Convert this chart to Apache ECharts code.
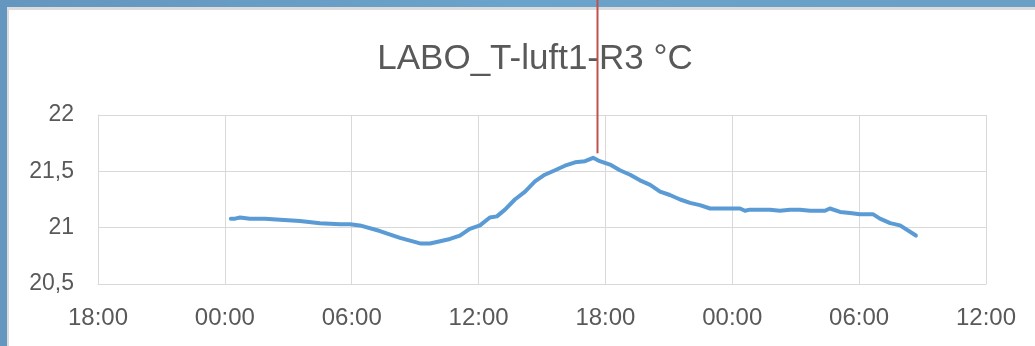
<!DOCTYPE html>
<html>
<head>
<meta charset="utf-8">
<title>LABO_T-luft1-R3 °C</title>
<script src="https://cdn.jsdelivr.net/npm/echarts@6/dist/echarts.min.js"></script>
<style>
  html, body { margin: 0; padding: 0; background: #ffffff; }
  #frameTop { position: absolute; left: 0; top: 0; width: 1035px; height: 7px; background: linear-gradient(90deg, #6596bf, #6aa3cb 50%, #6a9fc6); }
  #frameTopShade { position: absolute; left: 7px; top: 7px; width: 1028px; height: 3px; background: #dcdcdc; }
  #frameLeft { position: absolute; left: 0; top: 0; width: 7px; height: 346px; background: #6596bf; }
  #frameLeftShade { position: absolute; left: 7px; top: 7px; width: 2px; height: 339px; background: #dcdcdc; }
  #chart { position: absolute; left: 0; top: 0; width: 1035px; height: 346px; }
</style>
</head>
<body>
<div id="frameTop"></div>
<div id="frameTopShade"></div>
<div id="frameLeft"></div>
<div id="frameLeftShade"></div>
<div id="chart"></div>
<script>
// Axis window (start and end of the time axis)
const axisStart = '2024-03-04 18:00';
const axisEnd = '2024-03-06 12:00';

// Sample times of the sensor
const times = [
  '2024-03-05 00:17', '2024-03-05 00:29', '2024-03-05 00:43', '2024-03-05 01:11',
  '2024-03-05 01:54', '2024-03-05 02:37', '2024-03-05 03:33', '2024-03-05 04:30',
  '2024-03-05 05:27', '2024-03-05 05:55', '2024-03-05 06:23', '2024-03-05 07:20',
  '2024-03-05 08:17', '2024-03-05 09:14', '2024-03-05 09:42', '2024-03-05 10:11',
  '2024-03-05 10:39', '2024-03-05 11:07', '2024-03-05 11:35', '2024-03-05 12:04',
  '2024-03-05 12:32', '2024-03-05 12:52', '2024-03-05 13:15', '2024-03-05 13:43',
  '2024-03-05 14:12', '2024-03-05 14:40', '2024-03-05 15:08', '2024-03-05 15:37',
  '2024-03-05 16:05', '2024-03-05 16:34', '2024-03-05 17:02', '2024-03-05 17:25',
  '2024-03-05 17:44', '2024-03-05 18:13', '2024-03-05 18:41', '2024-03-05 19:10',
  '2024-03-05 19:38', '2024-03-05 20:07', '2024-03-05 20:35', '2024-03-05 21:03',
  '2024-03-05 21:32', '2024-03-05 22:00', '2024-03-05 22:28', '2024-03-05 22:57',
  '2024-03-05 23:25', '2024-03-06 00:22', '2024-03-06 00:36', '2024-03-06 00:50',
  '2024-03-06 01:47', '2024-03-06 02:15', '2024-03-06 02:44', '2024-03-06 03:12',
  '2024-03-06 03:41', '2024-03-06 04:23', '2024-03-06 04:37', '2024-03-06 05:06',
  '2024-03-06 05:34', '2024-03-06 06:02', '2024-03-06 06:39', '2024-03-06 06:59',
  '2024-03-06 07:28', '2024-03-06 07:56', '2024-03-06 08:41'
];

// Air temperature, °C
const temps = [
  21.08, 21.08, 21.09, 21.08,
  21.08, 21.07, 21.06, 21.04,
  21.03, 21.03, 21.02, 20.97,
  20.91, 20.86, 20.86, 20.88,
  20.90, 20.93, 20.99, 21.02,
  21.09, 21.10, 21.16, 21.25,
  21.32, 21.41, 21.47, 21.51,
  21.55, 21.58, 21.59, 21.62,
  21.59, 21.56, 21.51, 21.47,
  21.42, 21.38, 21.32, 21.29,
  21.25, 21.22, 21.20, 21.17,
  21.17, 21.17, 21.15, 21.16,
  21.16, 21.15, 21.16, 21.16,
  21.15, 21.15, 21.17, 21.14,
  21.13, 21.12, 21.12, 21.08,
  21.04, 21.02, 20.93
];

// Y axis ticks
const yTicks = [20.5, 21, 21.5, 22];

// Cursor marker time and its lower end (°C)
const cursorTime = '2024-03-05 17:36';
const cursorBottom = 21.66;

// Hours elapsed since the axis start (parsed as UTC to stay timezone-free)
function toUTC(s) {
  const m = s.match(/(\d+)-(\d+)-(\d+) (\d+):(\d+)/);
  return Date.UTC(+m[1], +m[2] - 1, +m[3], +m[4], +m[5]);
}
const t0 = toUTC(axisStart);
const hoursOf = s => (toUTC(s) - t0) / 3600000;
const spanHours = hoursOf(axisEnd);
const startHour = new Date(t0).getUTCHours();

const seriesData = times.map((t, i) => [hoursOf(t), temps[i]]);

const textColor = '#595959';
const gridColor = '#d9d9d9';
const font = '"Liberation Sans", Arial, sans-serif';

const chart = echarts.init(document.getElementById('chart'), null, { renderer: 'canvas' });

chart.setOption({
  backgroundColor: 'transparent',
  animation: false,
  title: {
    text: 'LABO_T-luft1-R3 °C',
    left: 530,
    top: 37,
    textAlign: 'center',
    textStyle: { color: textColor, fontFamily: font, fontSize: 35, fontWeight: 'normal' }
  },
  grid: { left: 98, right: 49, top: 115, bottom: 62, containLabel: false },
  xAxis: {
    type: 'value',
    min: 0,
    max: spanHours,
    interval: 6,
    axisLine: { show: true, lineStyle: { color: gridColor, width: 1 } },
    axisTick: { show: false },
    splitLine: { show: true, lineStyle: { color: gridColor, width: 1 } },
    axisLabel: {
      color: textColor, fontFamily: font, fontSize: 24, margin: 22,
      showMinLabel: true, showMaxLabel: true,
      formatter: v => {
        const h = (startHour + Math.round(v)) % 24;
        return String(h).padStart(2, '0') + ':00';
      }
    }
  },
  yAxis: {
    type: 'value',
    min: yTicks[0],
    max: yTicks[yTicks.length - 1],
    interval: yTicks[1] - yTicks[0],
    axisLine: { show: true, lineStyle: { color: gridColor, width: 1 } },
    axisTick: { show: false },
    splitLine: { show: true, lineStyle: { color: gridColor, width: 1 } },
    axisLabel: {
      color: textColor, fontFamily: font, fontSize: 23, margin: 24,
      formatter: v => String(v).replace('.', ',')
    }
  },
  series: [{
    type: 'line',
    data: seriesData,
    showSymbol: false,
    symbol: 'none',
    lineStyle: { color: '#5b9bd5', width: 4, cap: 'round', join: 'round' },
    z: 3
  }]
});

// Vertical cursor marker from the top edge down to just above the curve
const cx = chart.convertToPixel({ gridIndex: 0 }, [hoursOf(cursorTime), cursorBottom]);
chart.setOption({
  graphic: [{
    type: 'line',
    z: 10,
    shape: { x1: Math.round(cx[0]) + 0.5, y1: 0, x2: Math.round(cx[0]) + 0.5, y2: cx[1] },
    style: { stroke: '#c0504d', lineWidth: 2 }
  }]
});
</script>
</body>
</html>
